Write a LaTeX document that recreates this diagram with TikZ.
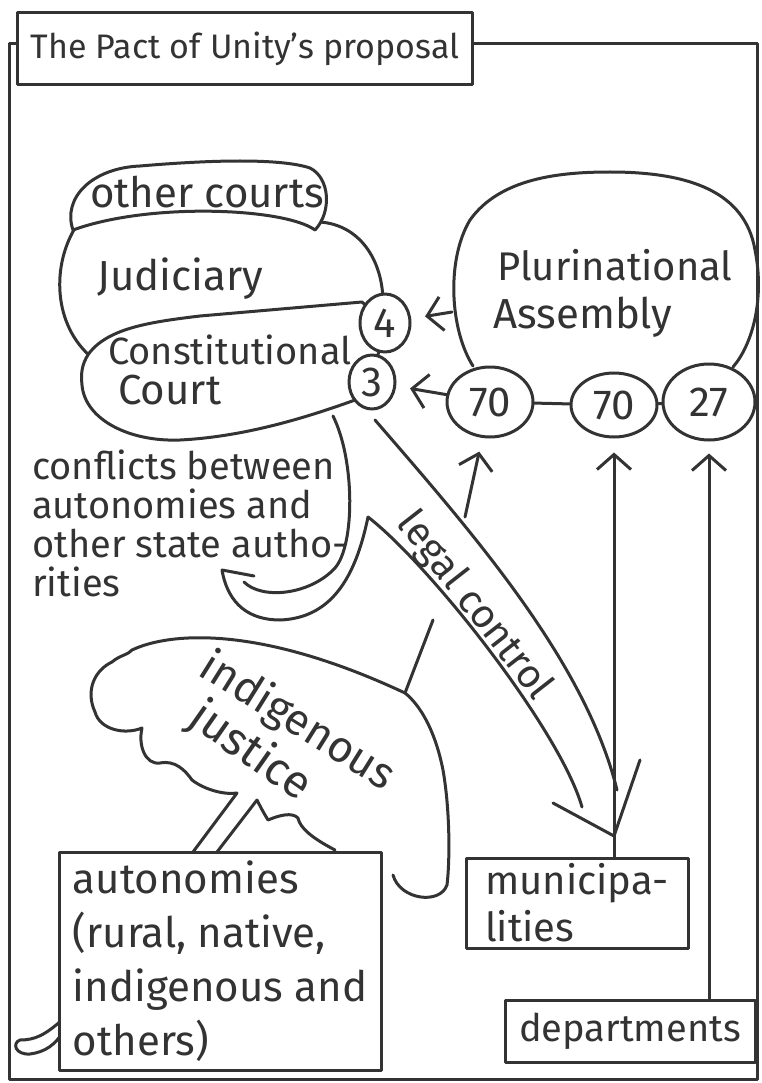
\documentclass[tikz,border=0pt]{standalone}
\usepackage{fontspec}
\setmainfont{Fira Sans}
\usetikzlibrary{arrows.meta,shapes.geometric}

\definecolor{ink}{HTML}{333333}
\tikzset{
  pen/.style={line width=3pt, draw=ink, line cap=round, line join=round},
  hand/.style={text=ink, inner sep=0pt, font=\fontsize{42}{48}\selectfont},
  box/.style={pen, fill=white, rectangle, align=left},
  ring/.style={pen, fill=white, ellipse, inner sep=0pt, text=ink, font=\fontsize{42}{46}\selectfont},
  barb/.style={-{Straight Barb[length=15pt,width=34pt]}},
}

\begin{document}
\begin{tikzpicture}[x=1pt, y=-1pt]
\useasboundingbox (0,0) rectangle (762,1083);

% Frame and title
\draw[pen] (9,44) rectangle (757,1079);
\node (title) [box, hand, font=\fontsize{34}{40}\selectfont, minimum width=455pt, minimum height=72pt] at (245,49) {The Pact of Unity's proposal};

% Judiciary
\draw[pen, fill=white] (320,222) .. controls (360,225) and (382,260) .. (383,300) -- (372,330) -- (95,360)
    .. controls (55,330) and (50,270) .. (75,228) .. controls (150,195) and (250,195) .. (320,222) -- cycle;
\draw[pen, fill=white] (73,230) .. controls (62,198) and (92,168) .. (140,166) .. controls (210,160) and (280,158) .. (310,168)
    .. controls (330,178) and (332,212) .. (315,230) .. controls (285,208) and (150,202) .. (73,230) -- cycle;
\draw[pen, fill=white] (90,352) .. controls (110,328) and (150,322) .. (200,316) -- (362,302) -- (385,323) -- (372,382) -- (355,400)
    .. controls (300,420) and (240,437) .. (180,440) .. controls (130,442) and (85,420) .. (82,385)
    .. controls (80,370) and (84,360) .. (90,352) -- cycle;
\node (c4) [ring, minimum width=50pt, minimum height=58pt] at (385,323) {4};
\node (c3) [ring, minimum width=46pt, minimum height=54pt] at (372,382) {3};

% Plurinational Assembly
\draw[pen] (473,366) .. controls (450,330) and (446,260) .. (470,220) .. controls (500,178) and (560,172) .. (610,172)
    .. controls (690,172) and (745,192) .. (755,250) .. controls (765,300) and (752,345) .. (733,367);
\node (n70a) [ring, minimum width=86pt, minimum height=70pt] at (490,402) {70};
\node (n70b) [ring, minimum width=86pt, minimum height=64pt] at (614,405) {70};
\node (n27) [ring, minimum width=92pt, minimum height=76pt] at (709,402) {27};
\draw[pen] (n70a) -- (n70b);
\draw[pen] (n70b) -- (n27);

% Arrows to the courts
\coordinate (asmL) at (452,312);
\draw[pen, barb, shorten >=14pt] (asmL) -- (c4);
\draw[pen, barb, shorten >=14pt] (n70a) -- (c3);

% Legal control
\coordinate (lcTop) at (375,420);
\coordinate (fork) at (368,517);
\coordinate (lcTip) at (614,836);
\coordinate (lcUp) at (465,517);
\draw[pen] (lcTop) .. controls (470,530) and (585,660) .. (617,790);
\draw[pen] (fork) .. controls (430,565) and (560,730) .. (582,807);
\draw[pen] (553,803) -- (lcTip) -- (640,760);
\draw[pen, barb, shorten >=14pt] (lcUp) -- (n70a);

% Conflicts
\coordinate (courtBot) at (333,416);
\coordinate (cfTip) at (222,570);
\draw[pen] (courtBot) .. controls (355,460) and (355,545) .. (335,568) .. controls (310,595) and (262,600) .. (244,582);
\draw[pen] (fork) .. controls (355,580) and (330,618) .. (280,620) .. controls (250,620) and (228,605) .. (cfTip) -- (254,576);

% Indigenous justice
\coordinate (cloudTop) at (405,693);
\coordinate (lcSide) at (433,620);
\draw[pen] (cloudTop) -- (lcSide);
\draw[pen] (237,793) .. controls (225,795) and (205,790) .. (192,780) .. controls (185,770) and (175,760) .. (160,763)
    .. controls (145,765) and (138,745) .. (142,728) .. controls (125,735) and (100,730) .. (95,712)
    .. controls (85,690) and (95,670) .. (112,662) .. controls (120,655) and (128,655) .. (132,650)
    .. controls (170,632) and (260,625) .. (cloudTop) .. controls (420,705) and (435,730) .. (443,770)
    .. controls (450,810) and (450,860) .. (447,885) .. controls (440,905) and (400,900) .. (393,875);
\draw[pen] (257,800) .. controls (262,810) and (265,815) .. (268,820) .. controls (280,815) and (292,812) .. (298,818)
    .. controls (300,828) and (312,838) .. (335,850);
\draw[pen] (237,793) -- (193,852);
\draw[pen] (257,800) -- (217,852);

% Boxes
\draw[pen] (62,1020) .. controls (45,1035) and (35,1040) .. (20,1040) .. controls (12,1043) and (15,1055) .. (30,1054)
    .. controls (45,1052) and (55,1045) .. (63,1032);
\node (auto) [box, hand, font=\fontsize{42}{54}\selectfont, minimum width=322pt, minimum height=218pt] at (220,961)
    {autonomies\\(rural, native,\\indigenous and\\others)};
\node (muni) [box, hand, font=\fontsize{40}{47}\selectfont, minimum width=222pt, minimum height=90pt] at (577,903)
    {municipa-\\lities};
\node (dept) [box, hand, font=\fontsize{38}{44}\selectfont, minimum width=250pt, minimum height=62pt] at (630,1031)
    {departments};
\draw[pen, barb, shorten >=14pt] (muni.north -| n70b) -- (n70b);
\draw[pen, barb, shorten >=12pt] (dept.north -| n27) -- (n27);

% Labels
\node (oth) [hand, anchor=base west] at (90,208) {other courts};
\node (jud) [hand, anchor=base west] at (97,290) {Judiciary};
\node (con) [hand, anchor=base west, font=\fontsize{38}{44}\selectfont] at (108,364) {Constitutional};
\node (crt) [hand, anchor=base west] at (118,404) {Court};
\node (plu) [hand, anchor=base west, font=\fontsize{40}{44}\selectfont] at (497,280) {Plurinational};
\node (asm) [hand, anchor=base west] at (493,328) {Assembly};
\node (cfl) [hand, anchor=north west, align=left, font=\fontsize{38}{39}\selectfont] at (32,450)
    {conflicts between\\autonomies and\\other state autho-\\rities};
\node (legal) [hand, rotate=-52, font=\fontsize{40}{44}\selectfont] at (474,606) {legal control};
\node (ind) [hand, rotate=-32, font=\fontsize{44}{48}\selectfont] at (297,722) {indigenous};
\node (jus) [hand, rotate=-35, font=\fontsize{46}{48}\selectfont] at (250,752) {justice};

\end{tikzpicture}
\end{document}
